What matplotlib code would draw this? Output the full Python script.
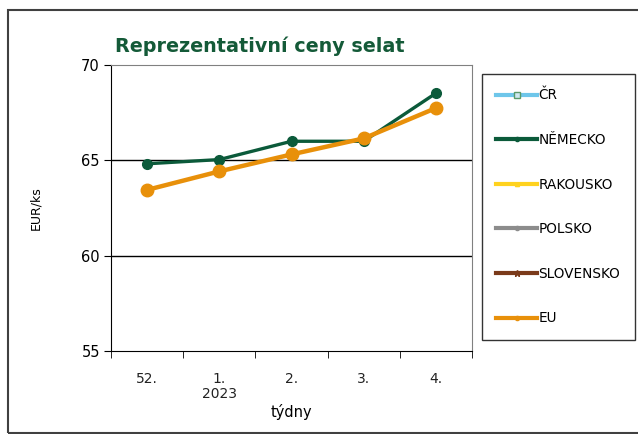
import numpy as np
import matplotlib.pyplot as plt
from matplotlib.lines import Line2D
from matplotlib.patches import Rectangle

weeks = ["52.", "1.\n2023", "2.", "3.", "4."]
nemecko = [64.82, 65.04, 66.0, 66.0, 68.52]
eu = [63.45, 64.42, 65.31, 66.15, 67.74]

fig = plt.figure(figsize=(6.38, 4.34), dpi=100)
fig.patches.append(Rectangle((8 / 638, 1 - 433 / 434), 1.2, 1 - 10 / 434 - (1 - 433 / 434),
                             transform=fig.transFigure, fill=False,
                             edgecolor="#404040", linewidth=1.5))

ax = fig.add_axes([111 / 638, 1 - 351 / 434, (472 - 111) / 638, (351 - 65) / 434])
x = np.arange(len(weeks))

ax.plot(x, nemecko, color="#0B5A3A", lw=2.4, marker="o", ms=7, zorder=3)
ax.plot(x, eu, color="#E8900A", lw=3.2, marker="o", ms=9, zorder=4)

ax.set_xlim(-0.5, len(weeks) - 0.5)
ax.set_ylim(55, 70)
ax.set_yticks([55, 60, 65, 70])
ax.set_xticks(x)
ax.set_xticklabels(weeks, fontsize=10, color="#222222", linespacing=1.1)
ax.set_xticks(np.arange(-0.5, len(weeks)), minor=True)
ax.tick_params(axis="x", which="major", length=0, pad=15)
ax.tick_params(axis="x", which="minor", length=5, direction="out", color="black")
ax.tick_params(axis="y", length=5, direction="out", labelsize=10.5, pad=3)
for v in [60, 65]:
    ax.axhline(v, color="black", lw=1, zorder=1)

ax.spines["left"].set_color("black")
ax.spines["bottom"].set_color("black")
ax.spines["top"].set_color("#808080")
ax.spines["right"].set_color("#808080")

ax.set_xlabel("týdny", fontsize=10.5, labelpad=2)
ax.set_ylabel("EUR/ks", fontsize=9, labelpad=28)
ax.set_title("Reprezentativní ceny selat", fontsize=13.8, fontweight="bold",
             color="#145A38", loc="left", x=0.01, pad=9)

handles = [
    Line2D([], [], color="#6EC6EA", lw=3, marker="s", ms=4, mfc="#CFE8F0", mec="#5A9A6A"),
    Line2D([], [], color="#0B5A3A", lw=3, marker="o", ms=3),
    Line2D([], [], color="#FFD21E", lw=3, marker="^", ms=3),
    Line2D([], [], color="#8C8C8C", lw=3, marker="o", ms=3),
    Line2D([], [], color="#7A3A1A", lw=3, marker="*", ms=5),
    Line2D([], [], color="#E8900A", lw=3, marker="o", ms=3),
]
labels = ["ČR", "NĚMECKO", "RAKOUSKO", "POLSKO", "SLOVENSKO", "EU"]
leg = fig.legend(handles, labels, loc="upper left",
                 bbox_to_anchor=(482 / 638, 1 - 74 / 434), fontsize=9.8,
                 frameon=True, fancybox=False, edgecolor="black",
                 labelspacing=2.25, borderpad=1.05, handlelength=3.0,
                 handletextpad=0.1, borderaxespad=0)
leg.get_frame().set_linewidth(1.0)

fig.savefig("out.png", dpi=100)
